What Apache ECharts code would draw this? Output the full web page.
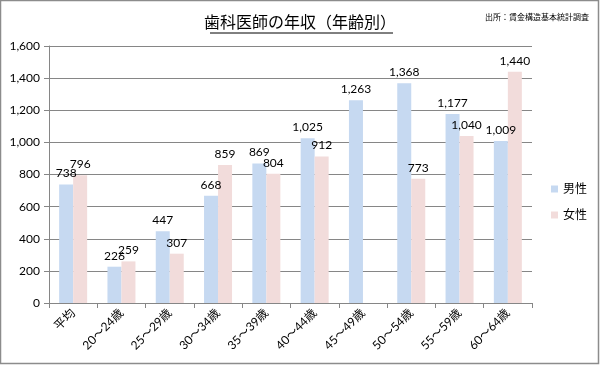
<!DOCTYPE html>
<html><head><meta charset="utf-8">
<script src="https://cdn.jsdelivr.net/npm/echarts@6/dist/echarts.min.js"></script>
<style>html,body{margin:0;padding:0;background:#fff}#c{width:600px;height:365px}</style>
</head><body><div id="c"></div>
<script>
const categories = ['平均','20～24歳','25～29歳','30～34歳','35～39歳','40～44歳','45～49歳','50～54歳','55～59歳','60～64歳'];
const male = [738,226,447,668,869,1025,1263,1368,1177,1009];
const female = [796,259,307,859,804,912,null,773,1040,1440];
const yTicks = [0,200,400,600,800,1000,1200,1400,1600];
const FONT = 'Lato, "Noto Sans CJK JP", sans-serif';
const fmt = v => v.toLocaleString('en-US');
const chart = echarts.init(document.getElementById('c'));
const lbl = {show:true, position:'top', distance:5, color:'#000', fontSize:12, fontFamily:FONT,
  formatter: p => p.value == null ? '' : fmt(p.value)};
chart.setOption({
  animation:false,
  textStyle:{fontFamily:FONT},
  title:[{text:'歯科医師の年収（年齢別）', left:'center', top:10, textStyle:{fontSize:16, fontWeight:'normal', color:'#000', fontFamily:FONT}},
         {text:'出所：賃金構造基本統計調査', right:6, top:8, textStyle:{fontSize:8, fontWeight:'normal', color:'#000', fontFamily:FONT}}],
  graphic:[
    {type:'rect', shape:{x:0.5,y:0.5,width:598,height:363}, style:{fill:'none', stroke:'#8c8c8c', lineWidth:1.5}, silent:true},
    {type:'line', shape:{x1:210,y1:33,x2:393,y2:33}, style:{stroke:'#000', lineWidth:1}, silent:true}
  ],
  legend:{orient:'vertical', left:546, top:178, itemWidth:7, itemHeight:7, itemGap:14, icon:'rect',
    textStyle:{fontSize:12, color:'#000', fontFamily:FONT}, data:['男性','女性']},
  grid:{left:49, right:68, top:46, bottom:62, containLabel:false},
  xAxis:{type:'category', data:categories,
    axisLine:{lineStyle:{color:'#868686'}},
    axisTick:{show:true, alignWithLabel:false, length:5, lineStyle:{color:'#868686'}},
    axisLabel:{rotate:45, fontSize:12, color:'#000', fontFamily:FONT, margin:8, interval:0}},
  yAxis:{type:'value', min:0, max:1600, interval:200,
    axisLine:{show:true, lineStyle:{color:'#868686'}},
    axisTick:{show:true, length:5, lineStyle:{color:'#868686'}},
    splitLine:{lineStyle:{color:'#868686'}},
    axisLabel:{fontSize:12, color:'#000', fontFamily:FONT, margin:9, formatter:v=>fmt(v)}},
  series:[
    {name:'男性', type:'bar', data:male, barWidth:14, barGap:'0%', itemStyle:{color:'#c6d9f1'}, label:lbl},
    {name:'女性', type:'bar', data:female, barWidth:14, barGap:'0%', itemStyle:{color:'#f2dcdb'}, label:lbl}
  ]
});
</script></body></html>
